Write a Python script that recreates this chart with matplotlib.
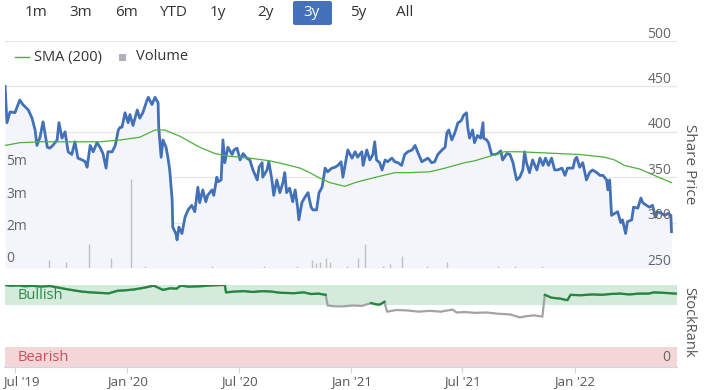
import numpy as np
import matplotlib
matplotlib.use("Agg")
import matplotlib.pyplot as plt
import matplotlib.dates as mdates
from matplotlib.patches import FancyBboxPatch, Rectangle
from matplotlib.lines import Line2D
from matplotlib.transforms import ScaledTranslation

plt.rcParams['font.family'] = ['Open Sans', 'DejaVu Sans']

# ---- data (days counted from start date) ----
start = np.datetime64('2019-06-15')

price_day = [0, 3, 8, 16, 24, 29, 38, 44, 49, 52, 57, 62, 69, 73, 78, 85, 88, 93, 98, 103,
             109, 114, 119, 126, 131, 134, 139, 144, 150, 155, 160, 165, 168, 175, 180, 185, 188, 191, 196, 201,
             204, 209, 216, 220, 225, 232, 234, 240, 245, 250, 251, 255, 258, 263, 266, 269, 273, 274, 279, 281,
             284, 289, 294, 299, 305, 310, 315, 318, 323, 328, 331, 338, 341, 346, 348, 353, 356, 359, 364, 371,
             374, 379, 384, 389, 395, 400, 405, 412, 415, 420, 421, 428, 431, 436, 439, 444, 449, 454, 457, 460,
             465, 470, 474, 478, 480, 485, 490, 495, 500, 503, 509, 513, 518, 523, 527, 534, 539, 544, 549, 552,
             557, 560, 567, 572, 576, 583, 585, 591, 596, 601, 604, 607, 612, 616, 621, 625, 632, 637, 642, 648,
             653, 658, 665, 670, 674, 681, 686, 691, 697, 702, 707, 714, 719, 722, 725, 730, 735, 740, 743, 746,
             749, 754, 756, 759, 764, 767, 772, 777, 781, 782, 787, 790, 795, 800, 805, 810, 813, 820, 825, 830,
             833, 836, 841, 846, 849, 852, 857, 862, 869, 874, 879, 883, 888, 893, 898, 903, 910, 915, 919, 928,
             931, 934, 939, 944, 950, 955, 960, 967, 972, 977, 983, 985, 988, 991, 996, 1001, 1006, 1009, 1014, 1017,
             1024, 1027, 1034, 1039, 1042, 1048, 1053, 1058, 1063, 1066, 1073, 1078, 1083, 1088, 1089]
price = [450, 410, 422, 421, 435, 430, 424, 415, 402, 385, 394, 411, 383, 382, 385, 391, 410, 393, 400, 378,
         375, 389, 371, 369, 367, 361, 385, 378, 388, 383, 376, 360, 378, 378, 385, 402, 405, 405, 421, 410,
         419, 407, 424, 415, 421, 435, 438, 430, 438, 432, 405, 372, 391, 383, 372, 358, 325, 295, 288, 281,
         295, 288, 306, 314, 319, 312, 339, 322, 336, 323, 330, 336, 330, 350, 345, 347, 391, 366, 383, 375,
         380, 382, 369, 376, 371, 369, 358, 347, 361, 366, 350, 358, 367, 347, 330, 347, 333, 344, 355, 333,
         338, 323, 336, 317, 303, 322, 328, 333, 317, 314, 314, 333, 339, 360, 356, 360, 361, 363, 367, 350,
         369, 380, 371, 378, 372, 378, 363, 380, 369, 375, 389, 369, 366, 358, 369, 367, 371, 367, 366, 363,
         375, 378, 380, 385, 378, 367, 369, 371, 366, 367, 375, 380, 383, 399, 402, 391, 399, 410, 411, 413,
         418, 421, 405, 393, 402, 388, 396, 393, 410, 393, 391, 388, 375, 375, 376, 379, 369, 376, 375, 366,
         356, 347, 350, 358, 378, 366, 355, 369, 358, 371, 363, 371, 363, 371, 358, 358, 360, 352, 360, 360,
         369, 372, 361, 366, 347, 355, 358, 355, 352, 352, 347, 336, 347, 308, 310, 312, 300, 303, 288, 301,
         303, 317, 316, 327, 322, 319, 317, 319, 306, 312, 310, 308, 310, 308, 290]

sma_day = [0, 24, 57, 155, 188, 220, 245, 261, 286, 302, 318, 343, 367, 400, 433, 465, 482, 498, 514, 531,
           555, 572, 588, 612, 637, 661, 694, 719, 735, 751, 767, 792, 816, 841, 874, 906, 939, 980, 996, 1012,
           1037, 1061, 1089]
sma = [385, 388, 389, 389, 391, 394, 402, 402, 395, 389, 383, 376, 373, 371, 368, 363, 360, 355, 349, 344,
       340, 344, 347, 351, 355, 355, 356, 360, 363, 366, 368, 373, 378, 378, 377, 376, 375, 372, 369, 363,
       359, 352, 344]

vol_day = [72, 100, 137, 173, 206, 229, 338, 423, 477, 501, 508, 514, 524, 531, 558, 576, 588, 617, 629, 648,
           689, 722, 805, 833, 877]
volume_m = [0.4, 0.3, 1.2, 0.5, 4.4, 0.1, 0.1, 0.1, 0.1, 0.4, 0.25, 0.3, 0.5, 0.3, 0.1, 0.5, 1.2, 0.1, 0.2, 0.6,
            0.1, 0.3, 0.1, 0.1, 0.1]

rank_day = [0, 10, 20, 32, 45, 58, 73, 86, 100, 112, 125, 140, 152, 169, 184, 196, 210, 226, 243, 258,
            270, 280, 287, 300, 320, 337, 354, 359, 361, 375, 390, 405, 420, 435, 450, 472, 488, 500, 512, 524,
            527, 540, 553, 568, 583, 598, 606, 612, 620, 624, 640, 657, 676, 694, 712, 731, 738, 752, 768, 786,
            805, 826, 841, 852, 864, 878, 882, 893, 906, 919, 924, 940, 960, 975, 989, 1005, 1020, 1036, 1052, 1060,
            1075, 1096]
rank = [100, 99, 99.5, 98.5, 99, 98, 98.8, 97, 95, 93.5, 92, 91, 90.5, 89.8, 93, 93.5, 94.5, 96.5, 99.2, 94,
        96, 95.5, 99.2, 98, 98.5, 99.5, 100, 100, 91, 92, 92.5, 91.5, 92.5, 92, 90.5, 90, 91, 89, 89.5, 88,
        75, 74, 74, 75, 74.5, 78, 76.5, 76, 79.6, 67.5, 69.5, 69, 67.5, 68.5, 67.5, 70, 66.5, 67, 66, 66.5,
        65, 64, 60.5, 62, 63, 61.5, 88, 84.5, 83.5, 81.5, 88, 87.5, 88.5, 88, 89, 89.5, 88.5, 89.5, 89.5, 91,
        90.5, 89.5]

price_ticks = [250, 300, 350, 400, 450, 500]
vol_ticks = [0, 1.6, 3.2, 4.8]
vol_labels = ['0', '2m', '3m', '5m']
x_ticks = ['2019-07-01', '2020-01-01', '2020-07-01', '2021-01-01', '2021-07-01', '2022-01-01']
buttons = ['1m', '3m', '6m', 'YTD', '1y', '2y', '3y', '5y', 'All']
selected = '3y'

p_dates = start + np.array(price_day).astype('timedelta64[D]')
s_dates = start + np.array(sma_day).astype('timedelta64[D]')
v_dates = start + np.array(vol_day).astype('timedelta64[D]')
r_dates = start + np.array(rank_day).astype('timedelta64[D]')
x_min, x_max = np.datetime64('2019-06-14'), np.datetime64('2022-06-17')

W, H = 705, 390
fig = plt.figure(figsize=(W / 100, H / 100), dpi=100)
fig.patch.set_facecolor('white')

def rect(l, t, r, b):
    return [l / W, 1 - b / H, (r - l) / W, (b - t) / H]

txt = '#666666'
grid = '#e6e6e6'

# ---- price pane ----
ax = fig.add_axes(rect(4.5, 41, 677, 268))
ax.set_facecolor('none')
ax.fill_between(p_dates, price, 250, color='#f3f5fa', lw=0, zorder=1)
ax.plot(p_dates, price, color='#4271b8', lw=2.0, zorder=3, solid_joinstyle='round')
ax.plot(s_dates, sma, color='#4cb13c', lw=0.9, zorder=4)
ax.set_xlim(x_min, x_max)
ax.set_ylim(250, 500)
for v in price_ticks:
    ax.axhline(v, color=grid, lw=0.9, zorder=0)
    ax.annotate(str(v), xy=(1, v), xycoords=('axes fraction', 'data'), xytext=(-4, 5),
                textcoords='offset points', ha='right', va='center', fontsize=10, color=txt)
ax.set_yticks([])
ax.tick_params(bottom=False, labelbottom=False)
for s in ax.spines.values():
    s.set_visible(False)
fig.text(689 / W, 1 - 164 / H, 'Share Price', rotation=270, ha='center', va='center',
         fontsize=11, color='#555555')

# volume overlay
axv = fig.add_axes(rect(4.5, 41, 677, 268), sharex=ax)
axv.set_facecolor('none')
axv.vlines(v_dates, 0, volume_m, color='#c0c0c0', lw=1.0)
axv.set_ylim(0, 11.2)
for v, lab in zip(vol_ticks, vol_labels):
    axv.annotate(lab, xy=(0, v), xycoords=('axes fraction', 'data'), xytext=(1, 6.5),
                 textcoords='offset points', ha='left', va='center', fontsize=10, color=txt)
axv.set_yticks([])
axv.tick_params(bottom=False, labelbottom=False)
for s in axv.spines.values():
    s.set_visible(False)

# ---- StockRank pane ----
axr = fig.add_axes(rect(4.5, 285, 677, 367), sharex=ax)
axr.set_ylim(0, 100)
axr.axhspan(76, 100, color='#d4eadb', lw=0, zorder=0)
axr.axhspan(0, 25, color='#f4d6d9', lw=0, zorder=0)
rank_arr = np.array(rank, dtype=float)
axr.plot(r_dates, rank_arr, color='#a3a3a3', lw=1.6, zorder=2)
axr.plot(r_dates, np.ma.masked_less(rank_arr, 76), color='#23883f', lw=1.6, zorder=3)
axr.text(0.019, 87, 'Bullish', transform=axr.get_yaxis_transform(), fontsize=10.5,
         color='#2b8a4c', va='center', ha='left')
axr.text(0.019, 12, 'Bearish', transform=axr.get_yaxis_transform(), fontsize=10.5,
         color='#c9505c', va='center', ha='left')
axr.text(0.99, 12, '0', transform=axr.get_yaxis_transform(), fontsize=10,
         color=txt, va='center', ha='right')
axr.set_yticks([])
axr.set_xticks([np.datetime64(d) for d in x_ticks])
axr.xaxis.set_major_formatter(mdates.DateFormatter("%b '%y"))
axr.tick_params(axis='x', length=4, color='#ccd6eb', labelsize=9.5, labelcolor='#555555', pad=2)
for k, s in axr.spines.items():
    s.set_visible(k == 'bottom')
axr.spines['bottom'].set_color('#ccd6eb')
fig.canvas.draw()
first = axr.get_xticklabels()[0]
first.set_transform(first.get_transform() + ScaledTranslation(6 / 100, 0, fig.dpi_scale_trans))
fig.text(689 / W, 1 - 322 / H, 'StockRank', rotation=270, ha='center', va='center',
         fontsize=10.5, color='#555555')

# ---- range buttons ----
bx = [36, 81, 126, 173, 218, 265, 312, 358, 405]
for x, b in zip(bx, buttons):
    if b == selected:
        fig.patches.append(FancyBboxPatch((293 / W, 1 - 25 / H), 39 / W, 24 / H,
                                          boxstyle='round,pad=0,rounding_size=0.004',
                                          transform=fig.transFigure, fc='#4472b9', ec='none'))
    fig.text(x / W, 1 - 12 / H, b, ha='center', va='center', fontsize=11,
             color='white' if b == selected else '#333333')

# ---- legend ----
fig.lines.append(Line2D([15 / W, 29 / W], [1 - 57 / H] * 2, color='#4cb13c', lw=1.0,
                        transform=fig.transFigure))
fig.text(34 / W, 1 - 57 / H, 'SMA (200)', ha='left', va='center', fontsize=10.5, color='#333333')
fig.patches.append(Rectangle((119 / W, 1 - 61 / H), 7 / W, 7 / H, transform=fig.transFigure,
                             fc='#b0b0b8', ec='none'))
fig.text(136 / W, 1 - 57 / H, 'Volume', ha='left', va='center', fontsize=10.5, color='#333333')

fig.savefig('out.png', dpi=100, facecolor='white')
